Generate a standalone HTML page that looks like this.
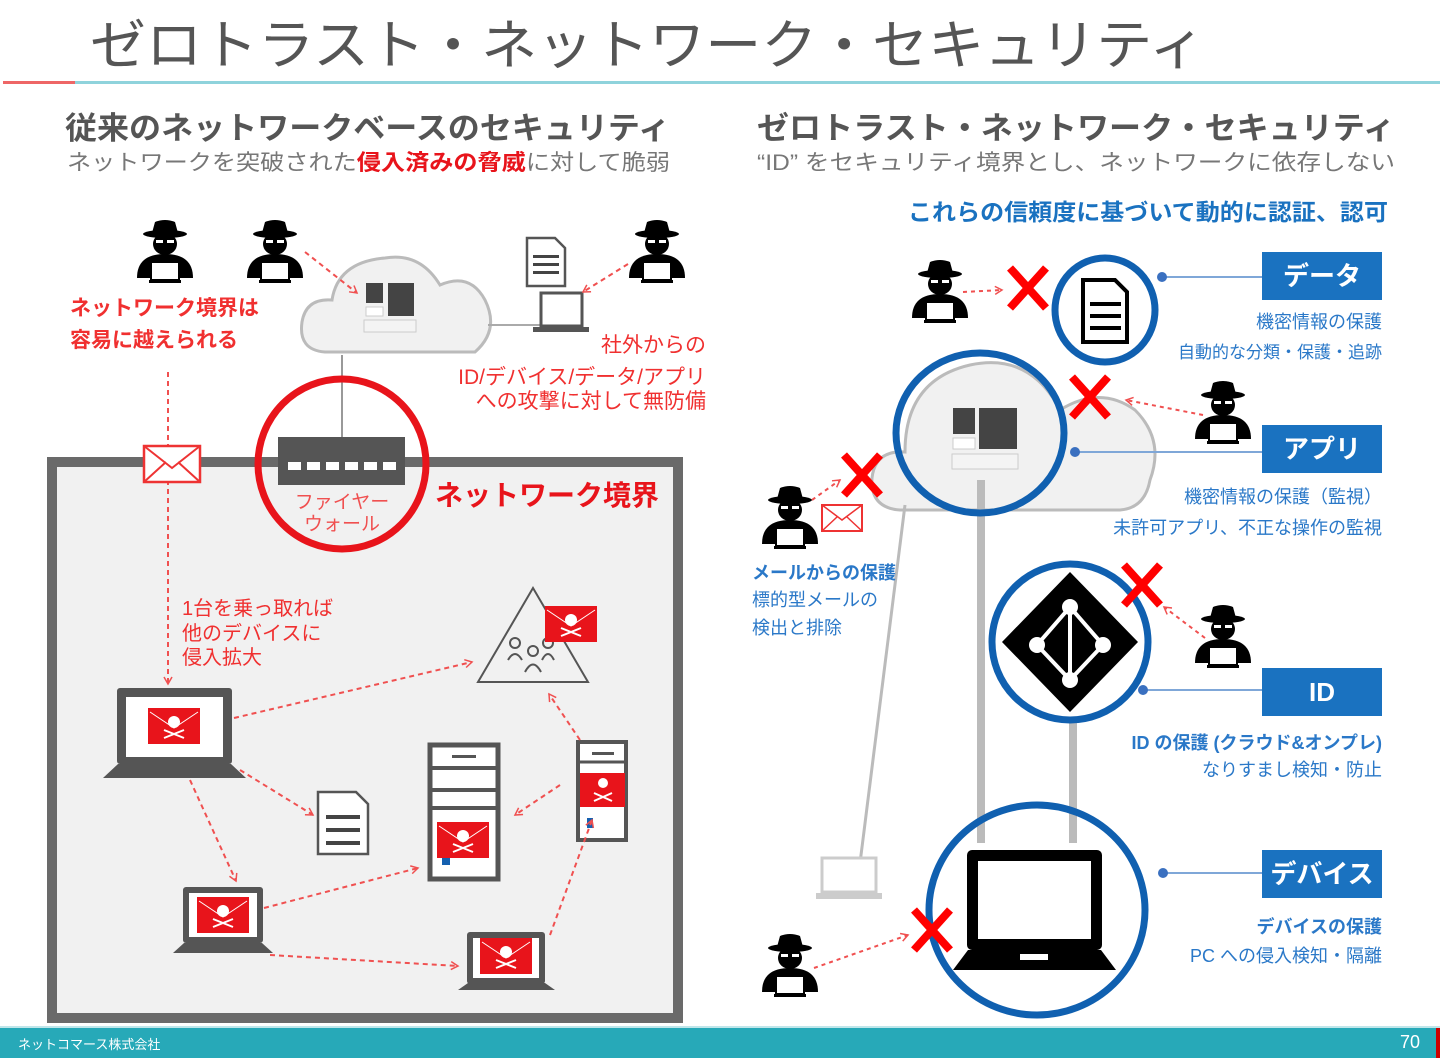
<!DOCTYPE html>
<html><head><meta charset="utf-8"><style>
html,body{margin:0;padding:0;background:#fff}
svg{display:block}
text{font-family:"Liberation Sans","Noto Sans CJK JP",sans-serif}
</style></head><body>
<svg width="1440" height="1058" viewBox="0 0 1440 1058" xmlns="http://www.w3.org/2000/svg">
<defs>
<g id="hk">
  <ellipse cx="0" cy="-18" rx="22" ry="4" fill="#000"/>
  <path d="M-13,-19 L-10,-30 Q0,-34 10,-30 L13,-19Z" fill="#000"/>
  <ellipse cx="0" cy="-8" rx="12" ry="11" fill="#000"/>
  <rect x="-9" y="-12" width="7" height="3" fill="#fff"/><rect x="2" y="-12" width="7" height="3" fill="#fff"/>
  <path d="M-28,26 Q-28,2 0,2 Q28,2 28,26Z" fill="#000"/>
  <rect x="-14" y="10" width="28" height="18" fill="#fff" stroke="#000" stroke-width="2"/>
  <rect x="-16" y="28" width="32" height="3" fill="#000"/>
</g>
<g id="skull">
  <rect x="0" y="0" width="52" height="36" fill="#e8141b"/>
  <path d="M2,4 L26,20 L50,4" stroke="#fff" stroke-width="1" fill="none"/>
  <circle cx="26" cy="14" r="6" fill="#fff"/>
  <path d="M16,22 L36,30 M36,22 L16,30" stroke="#fff" stroke-width="2"/>
</g>
<marker id="ar" markerWidth="10" markerHeight="10" refX="8" refY="5" orient="auto" markerUnits="userSpaceOnUse"><path d="M1,1 L8,5 L1,9" fill="none" stroke="#f05050" stroke-width="1.5"/></marker>
</defs>

<!-- title -->
<text x="90" y="64" font-size="54" fill="#555" textLength="1115" lengthAdjust="spacingAndGlyphs">ゼロトラスト・ネットワーク・セキュリティ</text>
<rect x="3" y="81" width="72" height="3" fill="#e66"/>
<rect x="75" y="81" width="1365" height="3" fill="#8fd3dc"/>

<text x="65" y="139" font-size="31" font-weight="bold" fill="#555" textLength="605" lengthAdjust="spacingAndGlyphs">従来のネットワークベースのセキュリティ</text>
<text x="67" y="170" font-size="22" fill="#777" textLength="603" lengthAdjust="spacingAndGlyphs">ネットワークを突破された<tspan fill="#e8141b" font-weight="bold">侵入済みの脅威</tspan>に対して脆弱</text>
<text x="757" y="139" font-size="31" font-weight="bold" fill="#555" textLength="638" lengthAdjust="spacingAndGlyphs">ゼロトラスト・ネットワーク・セキュリティ</text>
<text x="757" y="170" font-size="22" fill="#777" textLength="638" lengthAdjust="spacingAndGlyphs">“ID” をセキュリティ境界とし、ネットワークに依存しない</text>

<!-- LEFT -->
<rect x="52" y="462" width="626" height="556" fill="#f1f1f1" stroke="#6a6a6a" stroke-width="10"/>
<!-- cloud left -->
<path d="M325,352 Q298,350 302,322 Q306,298 332,300 Q338,262 385,258 Q420,252 440,285 Q470,272 485,300 Q500,330 475,352Z" fill="#f1f1f1" stroke="#bbb" stroke-width="3"/>
<rect x="366" y="283" width="17" height="20" fill="#444"/><rect x="388" y="283" width="26" height="33" fill="#444"/>
<rect x="366" y="307" width="17" height="9" fill="#fff" stroke="#ccc"/><rect x="364" y="320" width="52" height="12" fill="#f4f4f4" stroke="#ccc"/>
<line x1="342" y1="355" x2="342" y2="437" stroke="#999" stroke-width="2"/>
<line x1="488" y1="325" x2="540" y2="325" stroke="#aaa" stroke-width="2"/>
<!-- doc + laptop top right -->
<path d="M527,238 h28 l10,10 v38 h-38z" fill="#fff" stroke="#555" stroke-width="2.5"/>
<rect x="533" y="255" width="26" height="3" fill="#444"/><rect x="533" y="263" width="26" height="3" fill="#444"/><rect x="533" y="271" width="26" height="3" fill="#444"/>
<rect x="541" y="293" width="41" height="33" fill="#fff" stroke="#555" stroke-width="3"/>
<rect x="533" y="327" width="56" height="5" fill="#555"/>
<use href="#hk" x="165" y="252"/><use href="#hk" x="275" y="252"/><use href="#hk" x="657" y="252"/>
<line x1="305" y1="252" x2="357" y2="293" stroke="#f05050" stroke-width="2" stroke-dasharray="5,4" marker-end="url(#ar)"/>
<line x1="628" y1="264" x2="583" y2="292" stroke="#f05050" stroke-width="2" stroke-dasharray="5,4" marker-end="url(#ar)"/>
<text x="70" y="315" font-size="21" font-weight="bold" fill="#f03030">ネットワーク境界は</text>
<text x="70" y="347" font-size="21" font-weight="bold" fill="#f03030">容易に越えられる</text>
<text x="706" y="352" font-size="21" fill="#f03030" text-anchor="end">社外からの</text>
<text x="706" y="384" font-size="21" fill="#f03030" text-anchor="end">ID/デバイス/データ/アプリ</text>
<text x="706" y="408" font-size="21" fill="#f03030" text-anchor="end">への攻撃に対して無防備</text>
<!-- dashed vertical -->
<line x1="168" y1="372" x2="168" y2="684" stroke="#f05050" stroke-width="2" stroke-dasharray="5,4" marker-end="url(#ar)"/>
<rect x="144" y="446" width="56" height="36" fill="#fff" stroke="#e33" stroke-width="2.5"/>
<path d="M144,446 L172,468 L200,446 M144,482 L166,462 M200,482 L178,462" stroke="#e33" stroke-width="2" fill="none"/>
<!-- firewall -->
<rect x="278" y="437" width="127" height="48" fill="#555"/>
<g fill="#fff"><rect x="288" y="462" width="13" height="8"/><rect x="307" y="462" width="13" height="8"/><rect x="326" y="462" width="13" height="8"/><rect x="345" y="462" width="13" height="8"/><rect x="364" y="462" width="13" height="8"/><rect x="383" y="462" width="13" height="8"/></g>
<ellipse cx="342" cy="464" rx="84" ry="85" fill="none" stroke="#e8141b" stroke-width="7"/>
<text x="342" y="508" font-size="19" fill="#f05050" text-anchor="middle">ファイヤー</text>
<text x="342" y="530" font-size="19" fill="#f05050" text-anchor="middle">ウォール</text>
<text x="435" y="505" font-size="28" font-weight="bold" fill="#e8141b">ネットワーク境界</text>
<text x="182" y="615" font-size="20" fill="#f03030">1台を乗っ取れば</text>
<text x="182" y="640" font-size="20" fill="#f03030">他のデバイスに</text>
<text x="182" y="664" font-size="20" fill="#f03030">侵入拡大</text>
<!-- triangle -->
<path d="M533,588 L588,682 L478,682Z" fill="none" stroke="#555" stroke-width="2"/>
<g fill="none" stroke="#555" stroke-width="2"><circle cx="515" cy="643" r="5"/><circle cx="533" cy="651" r="5"/><circle cx="548" cy="643" r="5"/><path d="M508,660 Q515,648 522,660 M525,672 Q533,657 541,672 M542,660 Q548,648 554,660"/></g>
<use href="#skull" x="545" y="606" transform="scale(1)"/>
<!-- laptop1 -->
<rect x="117" y="688" width="115" height="76" fill="#555" rx="3"/>
<rect x="126" y="697" width="97" height="60" fill="#fff"/>
<use href="#skull" x="148" y="708"/>
<path d="M103,778 L118,764 L231,764 L246,778Z" fill="#555"/>
<!-- doc -->
<path d="M318,792 h38 l12,12 v50 h-50z" fill="#fff" stroke="#555" stroke-width="2.5"/>
<rect x="326" y="815" width="34" height="4" fill="#444"/><rect x="326" y="828" width="34" height="4" fill="#444"/><rect x="326" y="841" width="34" height="4" fill="#444"/>
<!-- tall server -->
<rect x="430" y="745" width="68" height="134" fill="#fff" stroke="#555" stroke-width="5"/>
<line x1="432" y1="768" x2="496" y2="768" stroke="#555" stroke-width="4"/><line x1="432" y1="790" x2="496" y2="790" stroke="#555" stroke-width="4"/><line x1="432" y1="808" x2="496" y2="808" stroke="#555" stroke-width="4"/>
<rect x="452" y="755" width="24" height="3" fill="#555"/>
<use href="#skull" x="437" y="822"/>
<rect x="442" y="858" width="8" height="7" fill="#1560b0"/>
<!-- small server -->
<rect x="578" y="742" width="48" height="98" fill="#fff" stroke="#555" stroke-width="4"/>
<line x1="580" y1="762" x2="624" y2="762" stroke="#555" stroke-width="3"/>
<rect x="592" y="752" width="22" height="3" fill="#555"/>
<rect x="580" y="773" width="45" height="34" fill="#e8141b"/>
<circle cx="603" cy="783" r="5" fill="#fff"/><path d="M594,793 L612,801 M612,793 L594,801" stroke="#fff" stroke-width="2"/>
<rect x="587" y="818" width="6" height="10" fill="#1560b0"/>
<!-- laptop2 -->
<rect x="183" y="887" width="80" height="56" fill="#555" rx="3"/>
<rect x="189" y="893" width="68" height="44" fill="#fff"/>
<use href="#skull" x="197" y="897" transform="translate(0,0)"/>
<path d="M173,953 L184,943 L262,943 L273,953Z" fill="#555"/>
<!-- laptop3 -->
<rect x="467" y="932" width="78" height="52" fill="#555" rx="3"/>
<rect x="473" y="938" width="66" height="40" fill="#fff"/>
<use href="#skull" x="480" y="938"/>
<path d="M458,990 L468,983 L545,983 L555,990Z" fill="#555"/>
<!-- left arrows -->
<g stroke="#f05050" stroke-width="2" stroke-dasharray="5,4" fill="none" marker-end="url(#ar)">
<line x1="234" y1="718" x2="472" y2="662"/>
<line x1="240" y1="770" x2="313" y2="815"/>
<line x1="190" y1="780" x2="236" y2="881"/>
<line x1="264" y1="908" x2="418" y2="868"/>
<line x1="270" y1="955" x2="458" y2="966"/>
<line x1="550" y1="935" x2="592" y2="820"/>
<line x1="560" y1="785" x2="515" y2="815"/>
<line x1="580" y1="740" x2="549" y2="694"/>
</g>

<!-- RIGHT -->
<text x="1388" y="220" font-size="23" font-weight="bold" fill="#1a72c0" text-anchor="end" textLength="480" lengthAdjust="spacingAndGlyphs">これらの信頼度に基づいて動的に認証、認可</text>
<!-- cloud right -->
<path d="M900,510 Q870,508 872,478 Q875,450 905,452 Q905,380 970,365 Q1030,352 1060,410 Q1100,385 1135,410 Q1165,440 1150,480 Q1145,508 1120,510Z" fill="#f1f1f1" stroke="#bbb" stroke-width="3"/>
<line x1="981" y1="480" x2="981" y2="843" stroke="#bbb" stroke-width="8"/>
<line x1="1073" y1="715" x2="1073" y2="843" stroke="#bbb" stroke-width="8"/>
<line x1="905" y1="505" x2="856" y2="895" stroke="#bbb" stroke-width="3"/>
<rect x="822" y="858" width="54" height="34" fill="#fff" stroke="#ccc" stroke-width="3"/>
<rect x="816" y="893" width="66" height="6" fill="#ccc"/>
<rect x="953" y="408" width="22" height="26" fill="#444"/><rect x="979" y="408" width="38" height="41" fill="#444"/>
<rect x="953" y="438" width="22" height="11" fill="#fff" stroke="#ccc"/><rect x="952" y="454" width="66" height="15" fill="#f4f4f4" stroke="#ccc"/>
<ellipse cx="980" cy="433" rx="84" ry="80" fill="none" stroke="#1060b0" stroke-width="7"/>
<!-- data circle -->
<ellipse cx="1105" cy="310" rx="50" ry="52" fill="#fff" stroke="#1060b0" stroke-width="7"/>
<path d="M1083,280 h32 l12,12 v50 h-44z" fill="#fff" stroke="#000" stroke-width="4"/>
<rect x="1090" y="302" width="31" height="4" fill="#000"/><rect x="1090" y="314" width="31" height="4" fill="#000"/><rect x="1090" y="326" width="31" height="4" fill="#000"/>
<!-- ID circle -->
<ellipse cx="1070" cy="642" rx="78" ry="78" fill="#fff" stroke="#1060b0" stroke-width="7"/>
<path d="M1070,572 L1138,642 L1070,712 L1002,642Z" fill="#000"/>
<g stroke="#fff" stroke-width="4" fill="none"><path d="M1070,607 L1103,645 L1070,680 L1037,645Z"/><line x1="1070" y1="607" x2="1070" y2="680"/></g>
<g fill="#fff"><circle cx="1070" cy="607" r="8"/><circle cx="1103" cy="645" r="8"/><circle cx="1070" cy="680" r="8"/><circle cx="1037" cy="645" r="8"/></g>
<!-- device circle -->
<ellipse cx="1037" cy="910" rx="108" ry="105" fill="none" stroke="#1060b0" stroke-width="7"/>
<rect x="967" y="850" width="135" height="100" rx="5" fill="#000"/>
<rect x="978" y="861" width="113" height="78" fill="#fff"/>
<path d="M953,970 L968,950 L1101,950 L1116,970Z" fill="#000"/>
<rect x="1020" y="954" width="28" height="6" fill="#fff"/>
<!-- labels -->
<g fill="#1a72c0">
<rect x="1262" y="252" width="120" height="48"/><rect x="1262" y="425" width="120" height="48"/><rect x="1262" y="668" width="120" height="48"/><rect x="1262" y="850" width="120" height="48"/>
</g>
<g fill="#fff" font-size="26" font-weight="bold" text-anchor="middle">
<text x="1322" y="285">データ</text><text x="1322" y="458">アプリ</text><text x="1322" y="701">ID</text><text x="1322" y="883">デバイス</text>
</g>
<g stroke="#7fa7d8" stroke-width="2"><line x1="1162" y1="277" x2="1262" y2="277"/><line x1="1075" y1="452" x2="1262" y2="452"/><line x1="1143" y1="690" x2="1262" y2="690"/><line x1="1163" y1="873" x2="1262" y2="873"/></g>
<g fill="#3a70c0"><circle cx="1162" cy="277" r="5"/><circle cx="1075" cy="452" r="5"/><circle cx="1143" cy="690" r="5"/><circle cx="1163" cy="873" r="5"/></g>
<g fill="#2a78c8" font-size="18" text-anchor="end">
<text x="1382" y="328">機密情報の保護</text>
<text x="1382" y="358" font-size="17">自動的な分類・保護・追跡</text>
<text x="1382" y="503">機密情報の保護（監視）</text>
<text x="1382" y="534">未許可アプリ、不正な操作の監視</text>
<text x="1382" y="749" font-weight="bold">ID の保護 (クラウド&amp;オンプレ)</text>
<text x="1382" y="776">なりすまし検知・防止</text>
<text x="1382" y="933" font-weight="bold">デバイスの保護</text>
<text x="1382" y="962">PC への侵入検知・隔離</text>
</g>
<g fill="#2a78c8" font-size="18">
<text x="752" y="579" font-weight="bold">メールからの保護</text>
<text x="752" y="606">標的型メールの</text>
<text x="752" y="634">検出と排除</text>
</g>
<use href="#hk" x="940" y="292"/><use href="#hk" x="1223" y="413"/><use href="#hk" x="790" y="518"/><use href="#hk" x="1223" y="637"/><use href="#hk" x="790" y="966"/>
<rect x="822" y="505" width="40" height="26" fill="#fff" stroke="#e33" stroke-width="2"/>
<path d="M822,505 L842,520 L862,505 M822,531 L837,517 M862,531 L847,517" stroke="#e33" stroke-width="1.5" fill="none"/>
<g stroke="#f05050" stroke-width="2" stroke-dasharray="4,4" fill="none" marker-end="url(#ar)">
<line x1="963" y1="292" x2="1002" y2="290"/>
<line x1="1203" y1="415" x2="1126" y2="400"/>
<line x1="812" y1="500" x2="840" y2="480"/>
<line x1="1205" y1="638" x2="1164" y2="607"/>
<line x1="814" y1="968" x2="908" y2="935"/>
</g>
<g stroke="#f00" stroke-width="8" stroke-linecap="butt">
<path d="M1010,268 L1046,308 M1046,268 L1010,308"/>
<path d="M1072,377 L1108,417 M1108,377 L1072,417"/>
<path d="M844,455 L880,495 M880,455 L844,495"/>
<path d="M1124,565 L1160,605 M1160,565 L1124,605"/>
<path d="M914,910 L950,950 M950,910 L914,950"/>
</g>

<!-- footer -->
<rect x="0" y="1028" width="1440" height="30" fill="#27a9b8"/>
<rect x="0" y="1026" width="1440" height="2" fill="#bfe6ea"/>
<text x="18" y="1049" font-size="13" fill="#fff">ネットコマース株式会社</text>
<text x="1420" y="1048" font-size="18" fill="#fff" text-anchor="end">70</text>
<rect x="1436" y="1028" width="4" height="30" fill="#c00"/>
</svg>
</body></html>
